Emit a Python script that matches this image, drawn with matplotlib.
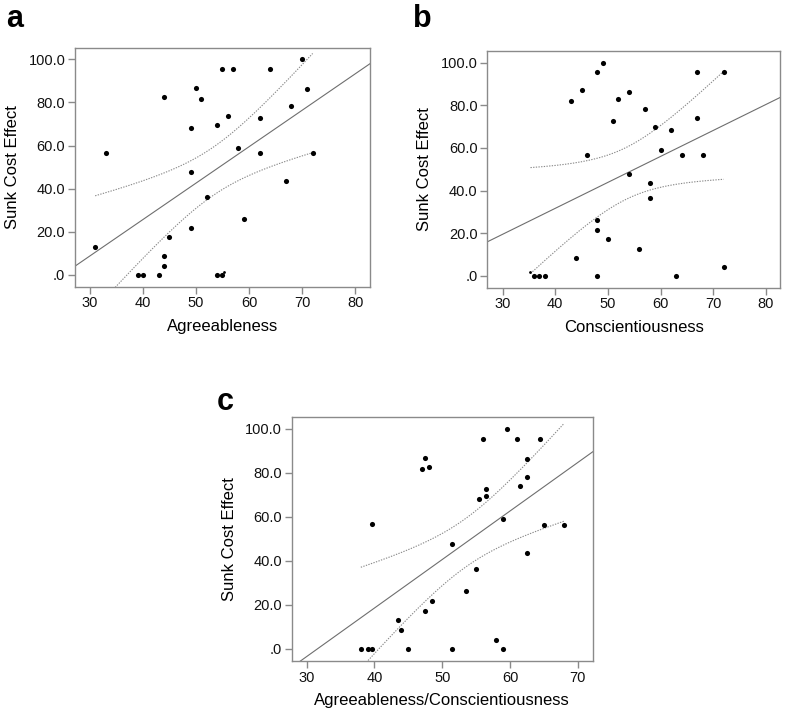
import numpy as np
import matplotlib.pyplot as plt

plt.rcParams['font.family'] = ['Liberation Sans', 'DejaVu Sans']

# Panel a: Agreeableness vs Sunk Cost Effect
agree_x = [31, 33, 39, 40, 43, 44, 44, 44, 45, 49, 49, 49, 50, 51, 52, 54,
           54, 55, 55, 56, 57, 58, 59, 62, 62, 64, 67, 68, 70, 71, 72]
agree_y = [13.1, 56.4, 0, 0, 0, 4.3, 8.8, 82.5, 17.5, 21.8, 47.6, 68.2, 86.9,
           81.8, 36.3, 69.6, 0, 0, 95.4, 73.9, 95.4, 59.0, 26.1, 72.8, 56.4,
           95.4, 43.4, 78.2, 100, 86.4, 56.4]
agree_small_x = [55.3]
agree_small_y = [1.2]

# Panel b: Conscientiousness vs Sunk Cost Effect
consc_x = [36, 37, 38, 43, 44, 45, 46, 48, 48, 48, 48, 49, 50, 51, 52, 54,
           54, 56, 57, 58, 58, 59, 60, 62, 63, 64, 67, 67, 68, 72, 72]
consc_y = [0, 0, 0, 81.9, 8.6, 86.9, 56.5, 95.5, 26.1, 21.7, 0, 100, 17.3,
           72.7, 82.7, 86.3, 47.6, 12.8, 78.3, 43.4, 36.3, 69.6, 59.1, 68.2,
           0, 56.5, 95.5, 73.9, 56.5, 95.6, 4.4]
consc_small_x = [35.3]
consc_small_y = [1.7]

# Panel c: Agreeableness/Conscientiousness vs Sunk Cost Effect
both_x = [38.0, 39.0, 39.6, 39.6, 43.5, 44.0, 45.0, 47.0, 47.5, 48.0, 47.5,
          48.5, 51.5, 51.5, 53.5, 55.0, 55.5, 56.0, 56.5, 56.5, 58.0, 59.0,
          59.0, 59.5, 61.0, 61.5, 62.5, 62.5, 62.5, 64.5, 65.0, 68.0]
both_y = [0, 0, 0, 56.6, 12.9, 8.6, 0, 81.8, 86.8, 82.5, 17.3, 21.7, 47.5, 0,
          26.1, 36.3, 68.1, 95.3, 72.7, 69.5, 4.2, 0, 59.0, 100, 95.3, 73.9,
          86.2, 78.1, 43.4, 95.4, 56.4, 56.4]

y_ticks = [0, 20, 40, 60, 80, 100]
y_ticklabels = ['.0', '20.0', '40.0', '60.0', '80.0', '100.0']

GRAY = '#8a8a8a'
LINE = '#6e6e6e'

fig = plt.figure(figsize=(7.87, 7.2), dpi=100)


def panel(rect, x, y, sx, sy, xlim, xticks, xlabel, letter, letter_pos):
    ax = fig.add_axes(rect)
    allx = np.array(x + sx, dtype=float)
    ally = np.array(y + sy, dtype=float)

    # linear fit and 95% confidence band of the mean
    n = len(allx)
    b, a = np.polyfit(allx, ally, 1)
    resid = ally - (a + b * allx)
    s = np.sqrt(np.sum(resid ** 2) / (n - 2))
    sxx = np.sum((allx - allx.mean()) ** 2)
    t = 2.04
    xl = np.linspace(xlim[0], xlim[1], 50)
    ax.plot(xl, a + b * xl, color=LINE, lw=0.8)
    xc = np.linspace(allx.min(), allx.max(), 200)
    half = t * s * np.sqrt(1.0 / n + (xc - allx.mean()) ** 2 / sxx)
    ax.plot(xc, a + b * xc + half, color=GRAY, lw=0.8, ls=(0, (1.2, 1.2)))
    ax.plot(xc, a + b * xc - half, color=GRAY, lw=0.8, ls=(0, (1.2, 1.2)))

    ax.plot(x, y, 'o', color='black', ms=3.7, mew=0)
    if sx:
        ax.plot(sx, sy, 'o', color='black', ms=2.0, mew=0)

    ax.set_xlim(*xlim)
    ax.set_ylim(-5.5, 105.4)
    ax.set_xticks(xticks)
    ax.set_yticks(y_ticks)
    ax.set_yticklabels(y_ticklabels)
    for sp in ax.spines.values():
        sp.set_color(GRAY)
        sp.set_linewidth(1.0)
    ax.tick_params(direction='out', length=5, width=1.0, color=GRAY,
                   labelsize=10.5, labelcolor='#111111', pad=2)
    ax.set_xlabel(xlabel, fontsize=12, labelpad=6)
    ax.set_ylabel('Sunk Cost Effect', fontsize=12, labelpad=6)
    fig.text(letter_pos[0], letter_pos[1], letter, fontsize=22,
             fontweight='bold', ha='left', va='top')
    return ax


panel([0.0953, 0.6018, 0.3748, 0.3319], agree_x, agree_y,
      agree_small_x, agree_small_y, (27.2, 82.8), [30, 40, 50, 60, 70, 80],
      'Agreeableness', 'a', (0.008, 0.995))
panel([0.6192, 0.6004, 0.3719, 0.3288], consc_x, consc_y,
      consc_small_x, consc_small_y, (27.1, 82.7), [30, 40, 50, 60, 70, 80],
      'Conscientiousness', 'b', (0.525, 0.995))
panel([0.3706, 0.0819, 0.3825, 0.3393], both_x, both_y, [], [],
      (27.8, 72.2), [30, 40, 50, 60, 70],
      'Agreeableness/Conscientiousness', 'c', (0.275, 0.462))

fig.savefig('out.png', dpi=100)
